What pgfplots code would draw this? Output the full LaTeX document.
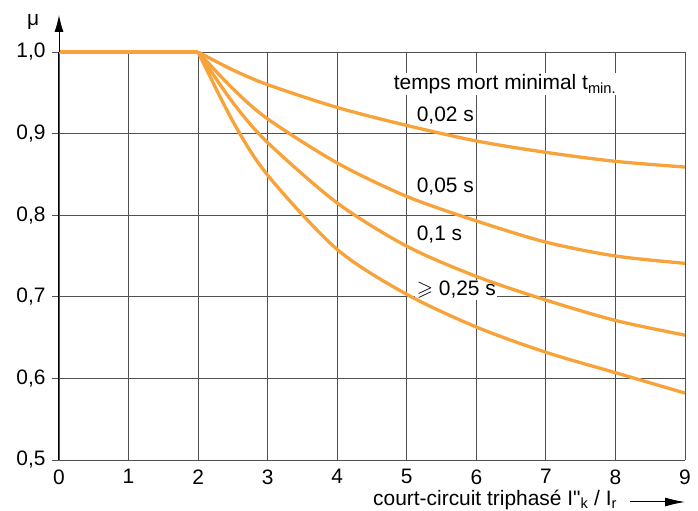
\documentclass[border=0pt]{standalone}
\usepackage{fontspec}
\setmainfont{Liberation Sans}
\newfontfamily\qf{Liberation Sans}[Ligatures=ResetAll]
\usepackage{amssymb}
\usepackage{pgfplots}
\pgfplotsset{compat=1.18}
\usetikzlibrary{arrows.meta}
\definecolor{curve}{RGB}{248,162,58}
\definecolor{gridc}{RGB}{80,80,80}
\newcommand{\lf}{\fontsize{21}{24}\selectfont}
\tikzset{lab/.style={anchor=base west, inner sep=1.5bp, fill=white, font=\lf}}
\begin{document}
\begin{tikzpicture}
\begin{axis}[
  at={(59bp,51bp)}, anchor=south west,
  scale only axis, width=626bp, height=408bp,
  xmin=0, xmax=9, ymin=0.5, ymax=1.0,
  xtick={0,1,...,9}, ytick={0.5,0.6,0.7,0.8,0.9,1.0},
  axis x line*=bottom, axis y line*=left,
  x axis line style={gridc, line width=0.9bp, -},
  y axis line style={black, line width=1bp, -},
  grid=major,
  major grid style={gridc, line width=0.9bp},
  tick align=outside, major tick length=7bp,
  xtick style={draw=none},
  ytick style={gridc, line width=0.9bp},
  ticklabel style={font=\lf},
  /pgf/number format/assume math mode=true,
  yticklabel style={xshift=-3bp, /pgf/number format/.cd, fixed, fixed zerofill, precision=1, use comma},
  xticklabel style={yshift=1bp},
  clip=false,
]
\node[lab] at (axis cs:4.79,0.954) {temps mort minimal t\textsubscript{min.}};
\node[lab] at (axis cs:5.12,0.9145) {0,02 s};
\node[lab] at (axis cs:5.12,0.8276) {0,05 s};
\node[lab] at (axis cs:5.12,0.769) {0,1 s};
\node[lab] at (axis cs:5.12,0.701) {$\geqslant$ 0,25 s};
\addplot[curve, line width=3.3bp] coordinates {(0,1) (2,1)};
\addplot[curve, line width=3.3bp, smooth] coordinates {(2,1) (2.5,0.978) (3,0.960) (4,0.932) (5,0.910) (6,0.891) (7,0.877) (8,0.866) (9,0.859)};
\addplot[curve, line width=3.3bp, smooth] coordinates {(2,1) (2.5,0.955) (3,0.918) (4,0.864) (5,0.823) (6,0.793) (7,0.767) (8,0.750) (9,0.741)};
\addplot[curve, line width=3.3bp, smooth] coordinates {(2,1) (2.5,0.938) (3,0.889) (4,0.815) (5,0.762) (6,0.725) (7,0.696) (8,0.671) (9,0.653)};
\addplot[curve, line width=3.3bp, smooth] coordinates {(2,1) (2.5,0.915) (3,0.849) (4,0.758) (5,0.703) (6,0.663) (7,0.632) (8,0.607) (9,0.582)};
\end{axis}
\draw[black, line width=1bp, -{Latex[length=17bp,width=9bp]}] (59bp,459bp) -- (59bp,496bp);
\node[anchor=base west, inner sep=0pt, font=\lf] at (27bp,485bp) {μ};
\node[anchor=base west, inner sep=0pt, font=\lf] at (373bp,6bp) {court-circuit triphasé I{\qf"}\textsubscript{k} / I\textsubscript{r}};
\draw[black, line width=1bp, -{Latex[length=20bp,width=9bp]}] (630bp,9bp) -- (685bp,9bp);
\pgfresetboundingbox
\path (0,0) rectangle (698bp,511bp);
\end{tikzpicture}
\end{document}
